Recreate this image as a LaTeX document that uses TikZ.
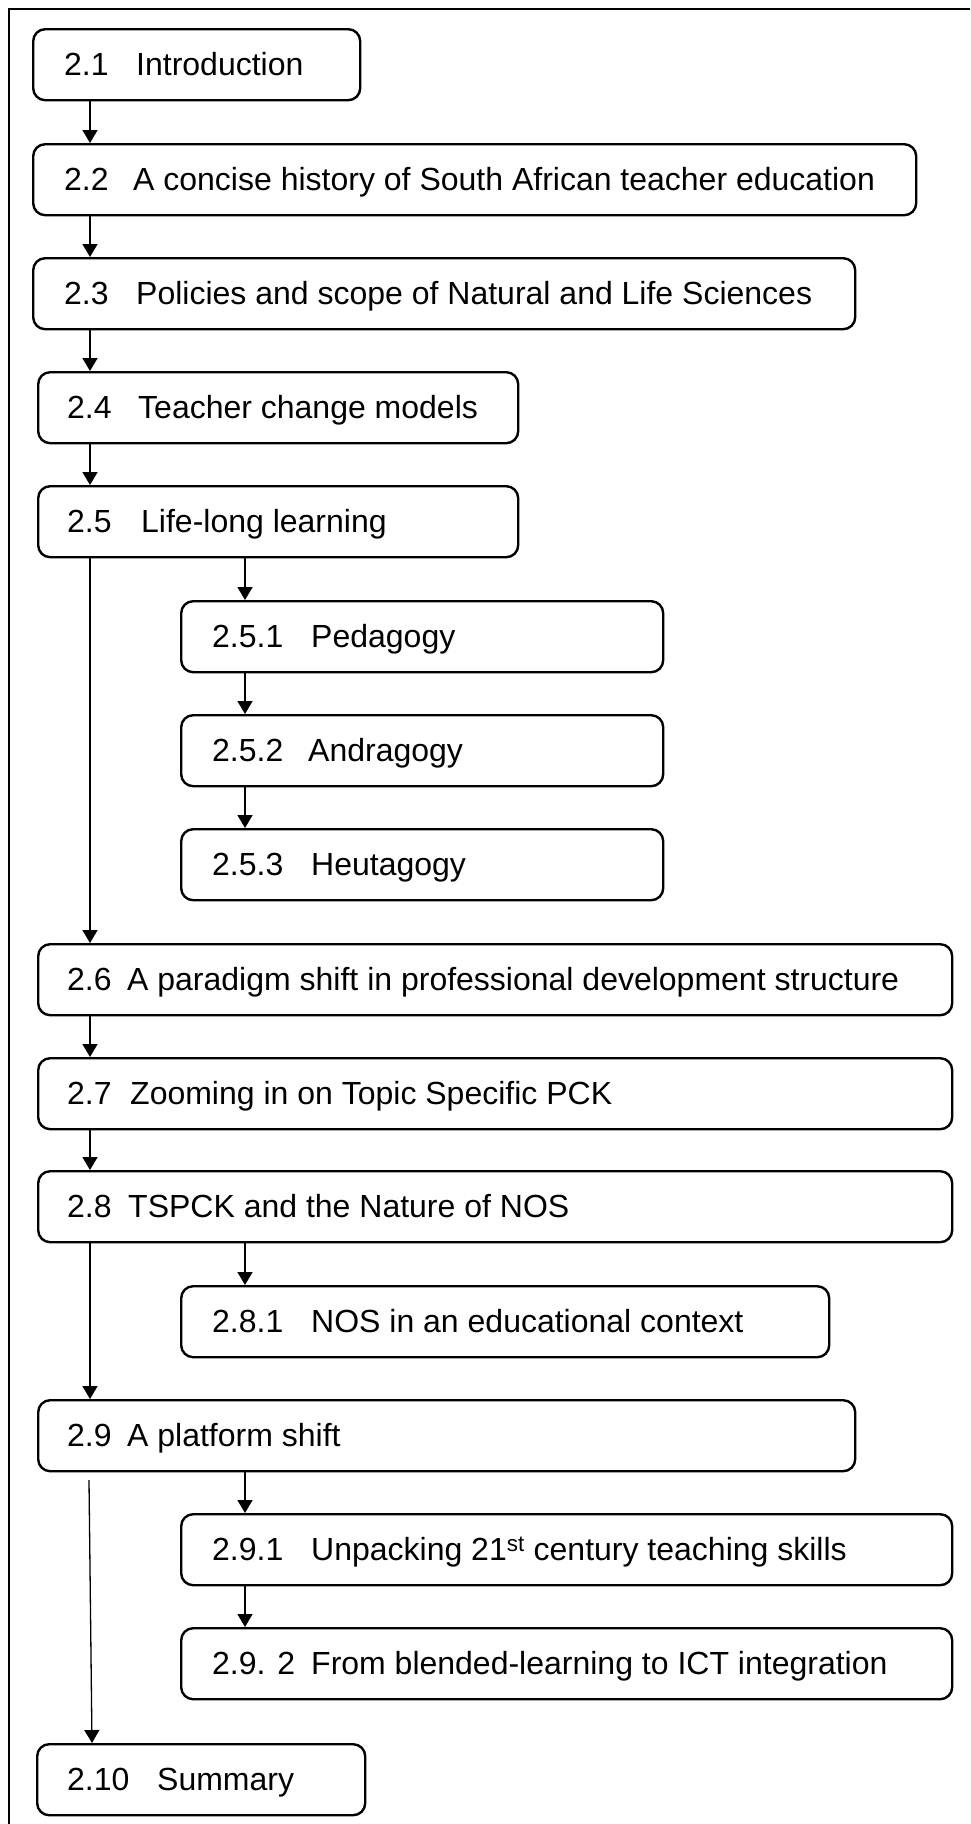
\documentclass[tikz,border=0pt]{standalone}
\usepackage{fontspec}
\setmainfont{Liberation Sans}
\usetikzlibrary{arrows.meta}

\tikzset{
  secframe/.style={draw=black, line width=2.4pt, rounded corners=12pt,
    minimum height=71pt, inner sep=0pt, anchor=north west, fill=white},
  seclabel/.style={anchor=base west, inner sep=0pt,
    font=\fontsize{32}{38}\selectfont},
  flow/.style={line width=1.5pt, -{Triangle[length=13pt,width=15pt]}},
  frameline/.style={line width=2pt}
}

% #1 name, #2 left, #3 top, #4 right, #5 number x, #6 title x, #7 number, #8 title
\newcommand\secbox[8]{%
  \node[secframe, minimum width={(#4)-(#2)}] (#1) at (#2,#3) {};
  \node[seclabel] (#1num) at (#5,#3+47.5) {#7};
  \node[seclabel] (#1txt) at (#6,#3+47.5) {#8};
}

\begin{document}
\begin{tikzpicture}[x=1pt,y=-1pt]
  \useasboundingbox (0,0) rectangle (970,1824);
  \fill[white] (0,0) rectangle (970,1824);

  % outer frame
  \draw[frameline] (970,9) -- (9,9) -- (9,1824);

  % column guides for the connectors
  \coordinate (mainx) at (90,0);
  \coordinate (subx) at (245,0);
  \coordinate (endx) at (92,0);

  \secbox{s21}{32}{28}{359}{64}{136}{2.1}{Introduction}
  \secbox{s22}{32}{143}{915}{64}{133}{2.2}{A concise history of South African teacher education}
  \secbox{s23}{32}{257}{854}{64}{136}{2.3}{Policies and scope of Natural and Life Sciences}
  \secbox{s24}{37}{371}{517}{67}{138}{2.4}{Teacher change models}
  \secbox{s25}{37}{485}{517}{67}{141}{2.5}{Life-long learning}
  \secbox{s251}{180}{600}{662}{212}{311}{2.5.1}{Pedagogy}
  \secbox{s252}{180}{714}{662}{212}{308}{2.5.2}{Andragogy}
  \secbox{s253}{180}{828}{662}{212}{311}{2.5.3}{Heutagogy}
  \secbox{s26}{37}{943}{951}{67}{127}{2.6}{A paradigm shift in professional development structure}
  \secbox{s27}{37}{1057}{951}{67}{130}{2.7}{Zooming in on Topic Specific PCK}
  \secbox{s28}{37}{1170}{951}{67}{128}{2.8}{TSPCK and the Nature of NOS}
  \secbox{s281}{180}{1285}{828}{212}{311}{2.8.1}{NOS in an educational context}
  \secbox{s29}{37}{1399}{854}{67}{127}{2.9}{A platform shift}
  \secbox{s291}{180}{1513}{951}{212}{311}{2.9.1}{Unpacking 21\textsuperscript{st} century teaching skills}
  \secbox{s292}{180}{1627}{951}{212}{311}{2.9. 2}{From blended-learning to ICT integration}
  \secbox{s210}{36}{1743}{364}{67}{157}{2.10}{Summary}

  % main sequence
  \draw[flow] (s21.south -| mainx) -- (s22.north -| mainx);
  \draw[flow] (s22.south -| mainx) -- (s23.north -| mainx);
  \draw[flow] (s23.south -| mainx) -- (s24.north -| mainx);
  \draw[flow] (s24.south -| mainx) -- (s25.north -| mainx);
  \draw[flow] (s25.south -| mainx) -- (s26.north -| mainx);
  \draw[flow] (s26.south -| mainx) -- (s27.north -| mainx);
  \draw[flow] (s27.south -| mainx) -- (s28.north -| mainx);
  \draw[flow] (s28.south -| mainx) -- (s29.north -| mainx);
  \coordinate (s29out) at (89,1480);
  \draw[flow, line width=1.3pt] (s29out) -- (s210.north -| endx);

  % subsections
  \draw[flow] (s25.south -| subx) -- (s251.north -| subx);
  \draw[flow] (s251.south -| subx) -- (s252.north -| subx);
  \draw[flow] (s252.south -| subx) -- (s253.north -| subx);
  \draw[flow] (s28.south -| subx) -- (s281.north -| subx);
  \draw[flow] (s29.south -| subx) -- (s291.north -| subx);
  \draw[flow] (s291.south -| subx) -- (s292.north -| subx);
\end{tikzpicture}
\end{document}
